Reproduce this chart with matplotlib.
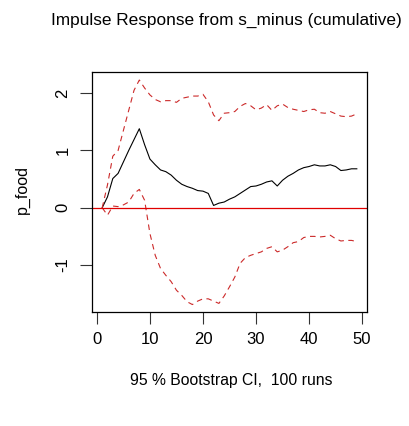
import matplotlib
matplotlib.use("Agg")
import matplotlib.pyplot as plt

steps = list(range(1, 50))
irf = [0.0, 0.19, 0.51, 0.60, 0.80, 1.00, 1.19, 1.38, 1.10, 0.85,
       0.75, 0.66, 0.63, 0.57, 0.48, 0.41, 0.37, 0.34, 0.30, 0.29,
       0.25, 0.04, 0.08, 0.10, 0.15, 0.19, 0.25, 0.31, 0.37, 0.38,
       0.41, 0.45, 0.47, 0.38, 0.48, 0.55, 0.60, 0.66, 0.70, 0.72,
       0.75, 0.73, 0.73, 0.75, 0.72, 0.65, 0.66, 0.68, 0.68]
upper = [0.0, 0.40, 0.90, 1.00, 1.35, 1.70, 2.05, 2.23, 2.09, 1.97,
         1.89, 1.85, 1.87, 1.87, 1.84, 1.91, 1.93, 1.95, 1.95, 1.98,
         1.85, 1.62, 1.52, 1.65, 1.66, 1.68, 1.77, 1.82, 1.78, 1.71,
         1.74, 1.80, 1.70, 1.78, 1.81, 1.75, 1.72, 1.70, 1.68, 1.71,
         1.72, 1.66, 1.65, 1.68, 1.64, 1.60, 1.59, 1.60, 1.64]
lower = [0.0, -0.13, 0.03, 0.02, 0.05, 0.10, 0.25, 0.32, 0.13, -0.45,
         -0.83, -1.06, -1.18, -1.29, -1.44, -1.53, -1.64, -1.69, -1.63, -1.59,
         -1.59, -1.63, -1.67, -1.54, -1.38, -1.21, -0.97, -0.87, -0.83, -0.80,
         -0.77, -0.71, -0.68, -0.77, -0.74, -0.68, -0.61, -0.59, -0.52, -0.50,
         -0.50, -0.51, -0.50, -0.48, -0.54, -0.58, -0.57, -0.57, -0.59]
xticks = [0, 10, 20, 30, 40, 50]
yticks = [-1, 0, 1, 2]

plt.rcParams['font.family'] = ['Liberation Sans', 'DejaVu Sans']

fig = plt.figure(figsize=(4.09, 4.26), dpi=100)
ax = fig.add_axes([92/409, 1 - 312/426, (367 - 92)/409, (312 - 72)/426])

ax.plot(steps, irf, color='black', lw=0.8)
ax.plot(steps, upper, color='#cc2a2a', lw=0.8, linestyle=(0, (5, 4)))
ax.plot(steps, lower, color='#cc2a2a', lw=0.8, linestyle=(0, (5, 4)))
ax.axhline(0, color='#e00000', lw=0.9)

ax.set_xlim(-0.92, 50.92)
ax.set_ylim(-1.82, 2.37)
ax.set_xticks(xticks)
ax.set_yticks(yticks)
ax.set_yticklabels([str(v) for v in yticks], rotation=90, va='center')
ax.tick_params(axis='both', length=8.5, width=0.8, labelsize=12, color='#333333')
ax.tick_params(axis='x', pad=6)
ax.tick_params(axis='y', pad=7)
for s in ax.spines.values():
    s.set_linewidth(0.9)

fig.text(226/409, 1 - 20/426, 'Impulse Response from s_minus (cumulative)',
         ha='center', va='center', fontsize=12.4)
fig.text(22/409, 1 - 190/426, 'p_food', rotation=90, ha='center', va='center', fontsize=11.5)
fig.text(231/409, 1 - 380/426, '95 % Bootstrap CI,  100 runs', ha='center', va='center', fontsize=11.3)

fig.savefig('out.png', dpi=100)
